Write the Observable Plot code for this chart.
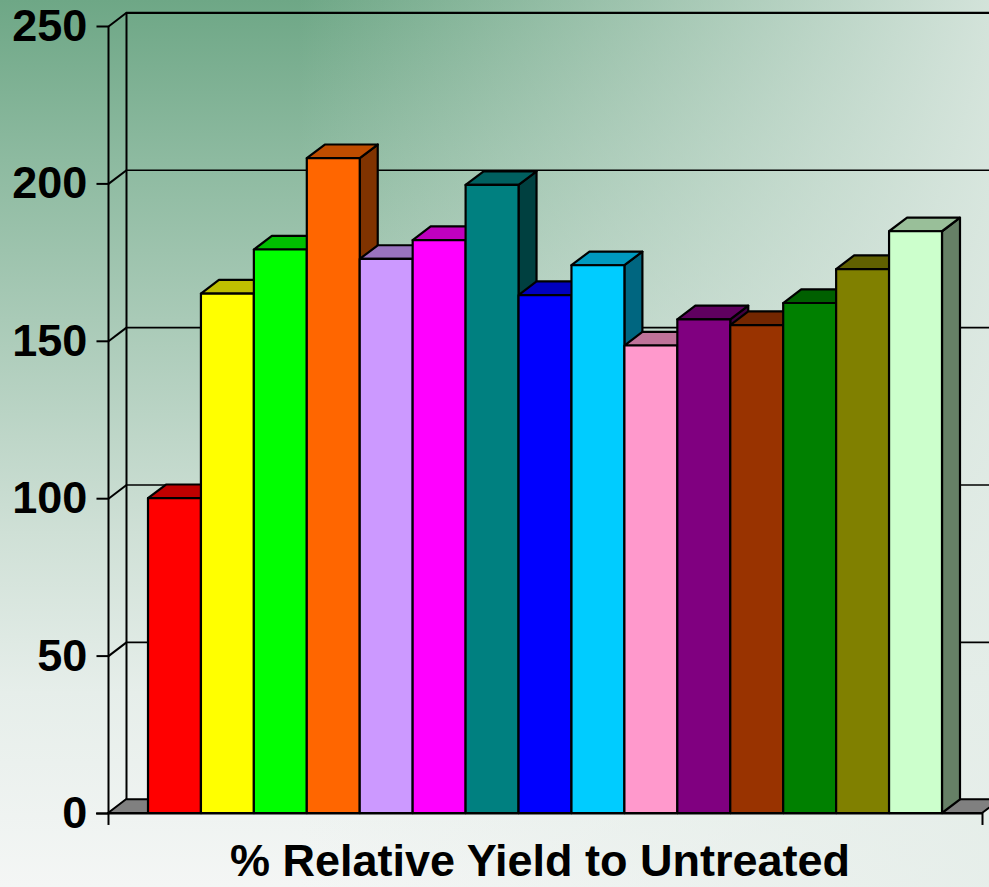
<!DOCTYPE html>
<html>
<head>
<meta charset="utf-8">
<script src="https://cdn.jsdelivr.net/npm/d3@7"></script>
<script src="https://cdn.jsdelivr.net/npm/@observablehq/plot@0.6"></script>
<style>
  html, body { margin: 0; padding: 0; }
  body {
    width: 989px; height: 887px; overflow: hidden; position: relative;
    font-family: "Liberation Sans", Arial, sans-serif;
    background:
      linear-gradient(to right, rgba(228,237,232,0) 30%, rgba(228,237,232,0.85) 100%),
      linear-gradient(to bottom, #6ea786 0%, #8dbaa0 18%, #a9cab7 36%, #cfe0d6 60%, #e6eeea 78%, #f4f6f5 100%);
  }
  #chart svg { display: block; }
  #caption {
    position: absolute; left: 0; top: 839px; width: 989px; height: 44px; box-sizing: border-box;
    padding-left: 91px; text-align: center;
    font-size: 45px; font-weight: bold; line-height: 44px; color: #000; white-space: nowrap;
  }
</style>
</head>
<body>
<div id="chart"></div>
<div id="caption"></div>
<script>
// ---- data ----
const values = [100, 165, 179, 208, 176, 182, 199.5, 164.5, 174, 148.5, 156.8, 155, 162, 172.8, 184.8];
const colors = ["#FF0000", "#FFFF00", "#00FF00", "#FF6600", "#CC99FF", "#FF00FF", "#008080", "#0000FF",
                "#00CCFF", "#FF99CC", "#800080", "#993300", "#008000", "#808000", "#CCFFCC"];
const yTicks = [0, 50, 100, 150, 200, 250];
const xLabel = "% Relative Yield to Untreated";

// ---- geometry (data units) ----
const XMIN = -0.7557, XMAX = values.length + 0.7557;
const DX = 0.34;      // depth offset in x units
const DY = 4.35;      // depth offset in y units
const TICKX = 0.227;  // front tick length
const TICKY = 3.8;    // end tick length on the floor axis
const LABELGAP = 0.40;

const shade = (c, k) => { const r = d3.rgb(c); return d3.rgb(r.r * k, r.g * k, r.b * k).formatHex(); };

const bars = values.map((v, i) => ({i, v, c: colors[i]}));
const sidePts = bars.flatMap(b => [
  {k: b.i, x: b.i + 1, y1: 0, y2: b.v, c: shade(b.c, 0.5)},
  {k: b.i, x: b.i + 1 + DX, y1: DY, y2: b.v + DY, c: shade(b.c, 0.5)}
]);
const topPts = bars.flatMap(b => [
  {k: b.i, y: b.v, x1: b.i, x2: b.i + 1, c: shade(b.c, 0.75)},
  {k: b.i, y: b.v + DY, x1: b.i + DX, x2: b.i + 1 + DX, c: shade(b.c, 0.75)}
]);
const floorPts = [
  {y: 0, x1: XMIN, x2: XMAX},
  {y: DY, x1: XMIN + DX, x2: XMAX + DX}
];

const font = "Liberation Sans, Arial, sans-serif";

const chart = Plot.plot({
  width: 989,
  height: 839,
  marginTop: 26,
  marginBottom: 26,
  marginLeft: 108,
  marginRight: 7,
  style: {background: "transparent", overflow: "visible"},
  x: {domain: [XMIN, XMAX], axis: null},
  y: {domain: [0, 250], axis: null},
  color: {type: "identity"},
  marks: [
    // back wall gridlines
    Plot.ruleY(yTicks.filter(t => t < 250), {y: d => d + DY, x1: XMIN + DX, x2: XMAX + DX + 1, stroke: "black", strokeWidth: 1.6}),
    Plot.ruleY([250], {y: d => d + DY, x1: XMIN + DX, x2: XMAX + DX + 1, stroke: "black", strokeWidth: 2.2}),
    // back wall left edge
    Plot.ruleX([XMIN + DX], {y1: DY, y2: 250 + DY, stroke: "black", strokeWidth: 2}),
    // left wall diagonals
    Plot.link(yTicks, {x1: XMIN, y1: d => d, x2: XMIN + DX, y2: d => d + DY, stroke: "black", strokeWidth: 2}),
    // front ticks
    Plot.link(yTicks, {x1: XMIN - TICKX, y1: d => d, x2: XMIN, y2: d => d, stroke: "black", strokeWidth: 2}),
    // front axis
    Plot.ruleX([XMIN], {y1: 0, y2: 250, stroke: "black", strokeWidth: 2}),
    // floor
    Plot.areaX(floorPts, {y: "y", x1: "x1", x2: "x2", fill: "#808080", stroke: "black", strokeWidth: 2, strokeLinejoin: "round"}),
    // bar sides
    Plot.areaY(sidePts, {x: "x", y1: "y1", y2: "y2", z: "k", fill: "c", stroke: "black", strokeWidth: 2.2, strokeLinejoin: "round"}),
    // bar tops
    Plot.areaX(topPts, {y: "y", x1: "x1", x2: "x2", z: "k", fill: "c", stroke: "black", strokeWidth: 2.2, strokeLinejoin: "round"}),
    // bar fronts
    Plot.rect(bars, {x1: d => d.i, x2: d => d.i + 1, y1: 0, y2: d => d.v, fill: "c", stroke: "black", strokeWidth: 2.2, strokeLinejoin: "round"}),
    // floor axis line + end ticks
    Plot.ruleY([0], {x1: XMIN - TICKX, x2: XMAX, stroke: "black", strokeWidth: 2}),
    Plot.ruleX([XMIN, XMAX], {y1: 0, y2: -TICKY, stroke: "black", strokeWidth: 2}),
    // y tick labels
    Plot.text(yTicks, {x: XMIN - LABELGAP, y: d => d, text: d => String(d), textAnchor: "end",
      fontSize: 45, fontWeight: "bold", fontFamily: font, fill: "black"})
  ]
});
document.getElementById("chart").appendChild(chart);
document.getElementById("caption").textContent = xLabel;
</script>
</body>
</html>
